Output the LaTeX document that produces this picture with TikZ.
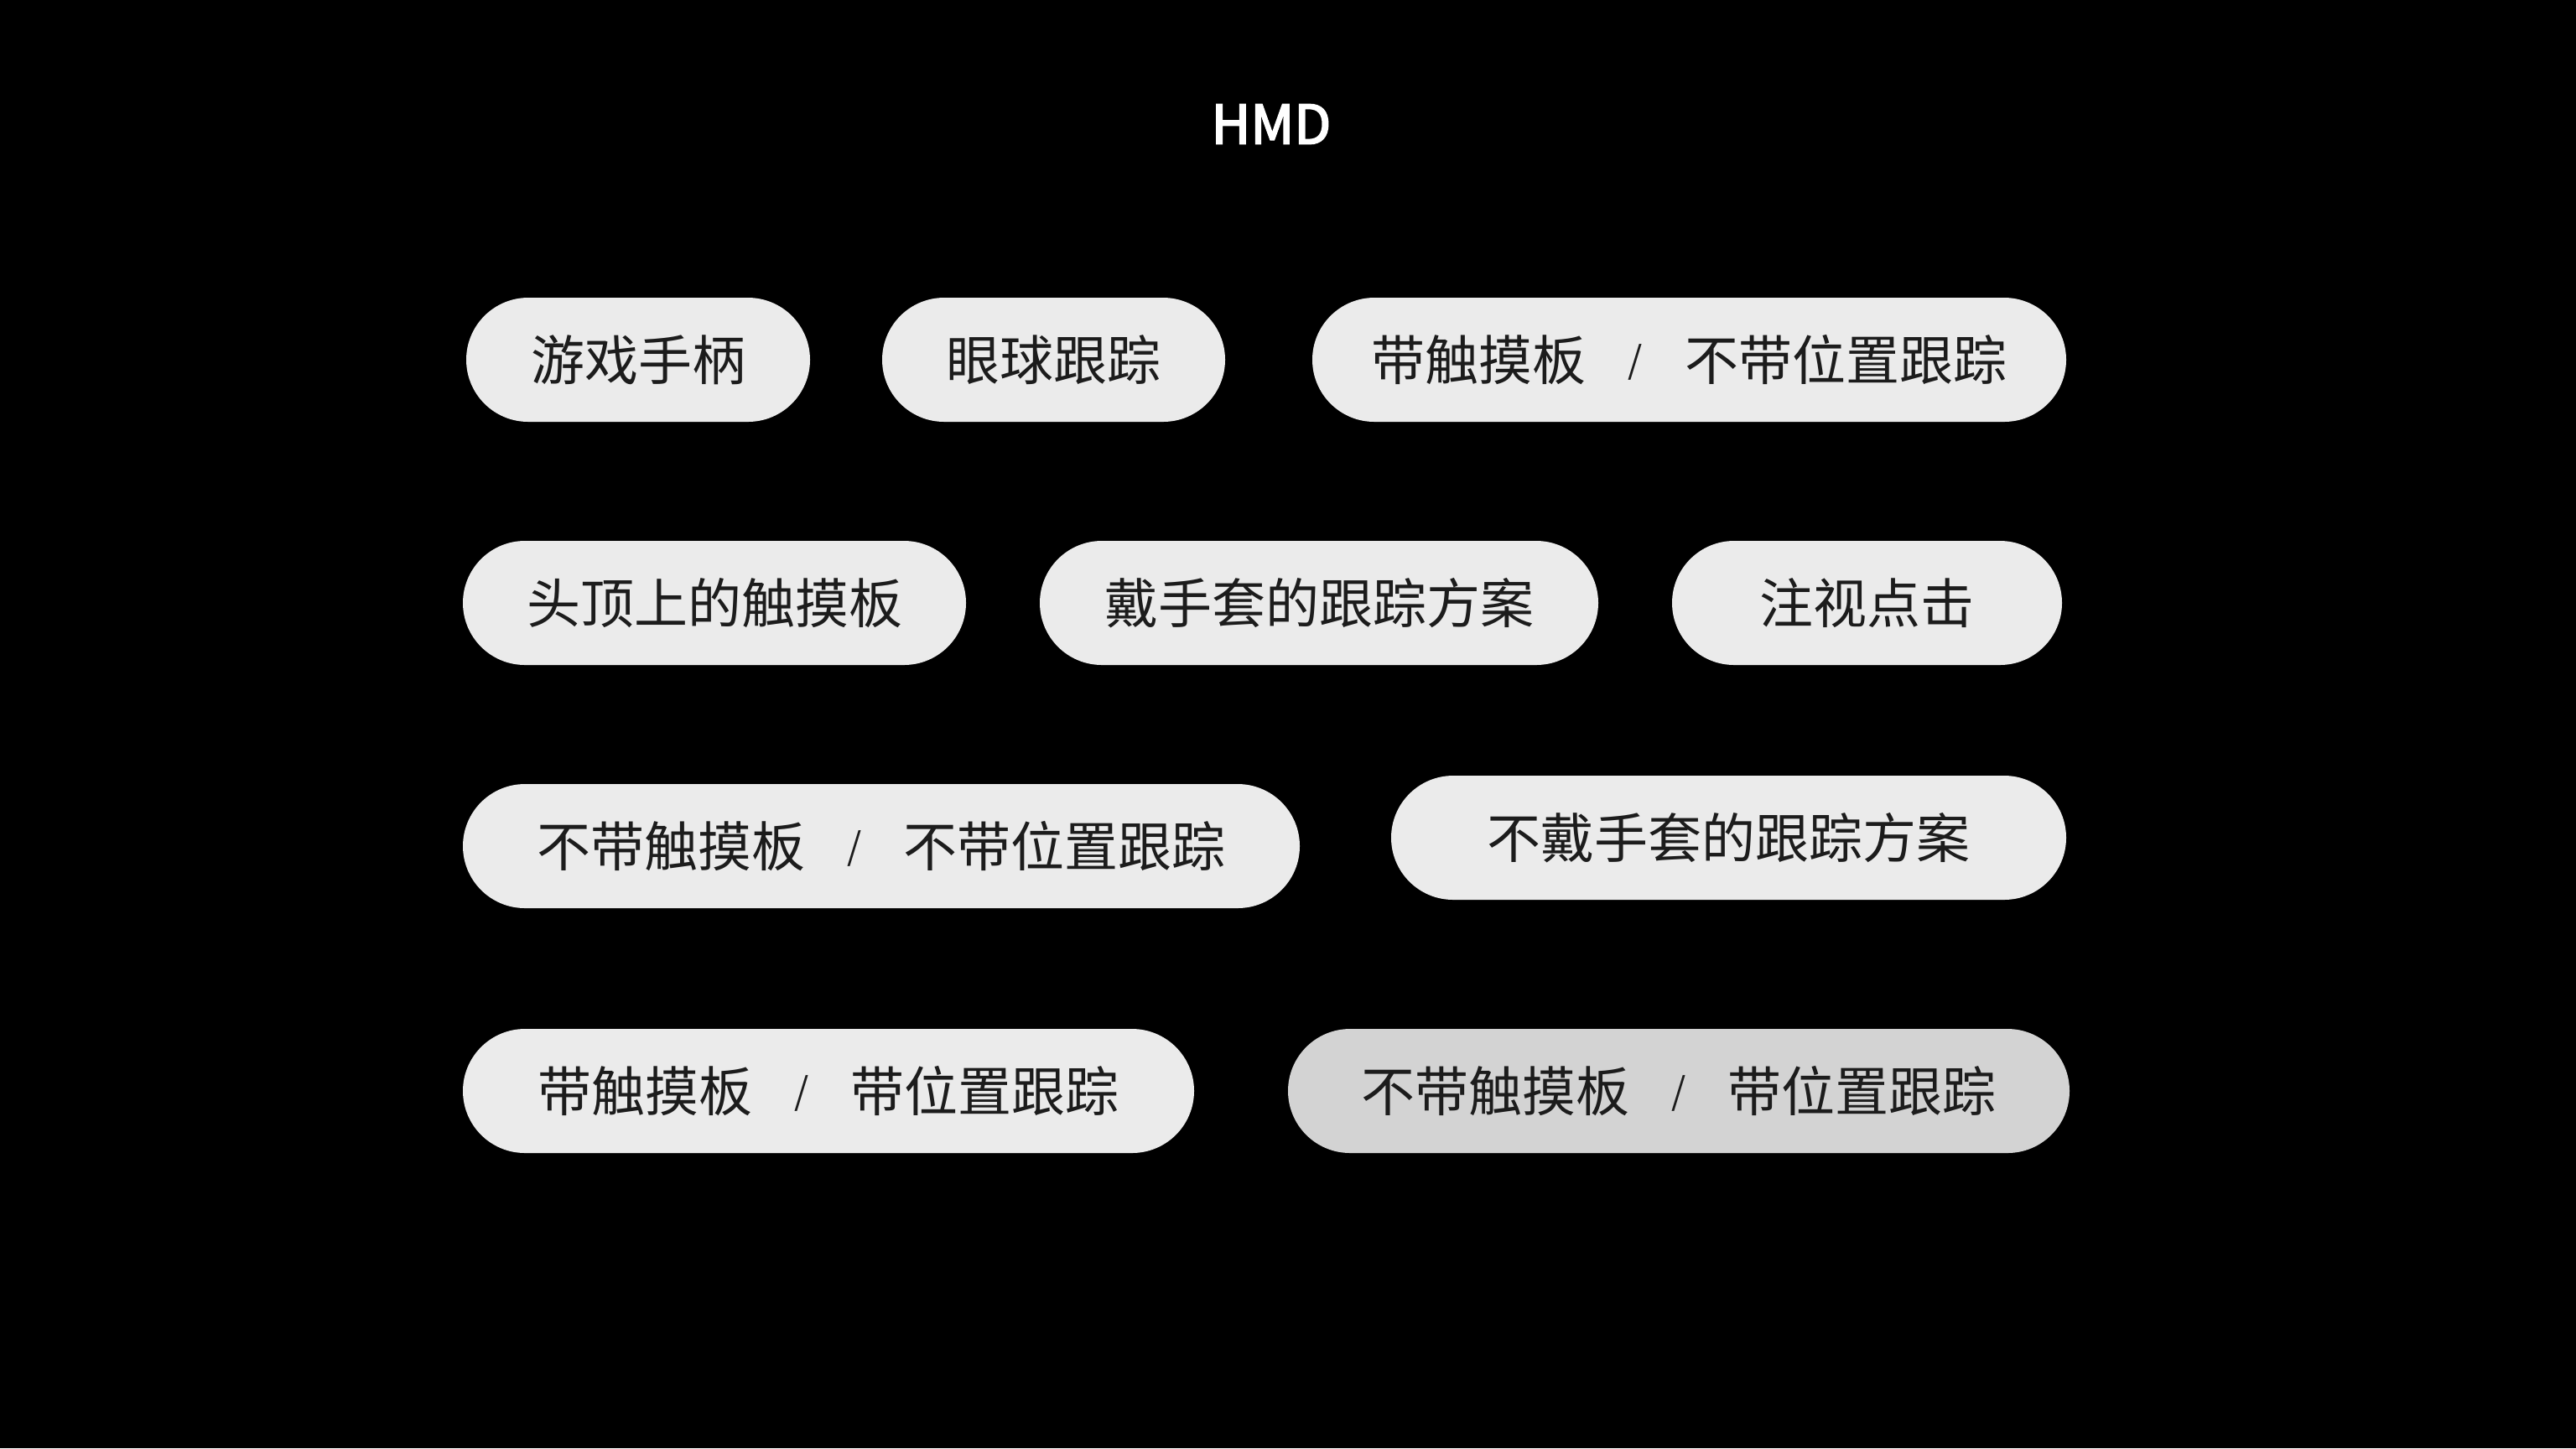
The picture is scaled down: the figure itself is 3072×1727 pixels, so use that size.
\documentclass[tikz,border=0pt]{standalone}
\usepackage{fontspec}
\setmainfont{Noto Sans CJK SC}
\newfontfamily\titlefont{Noto Sans CJK SC}[FakeBold=3]
\definecolor{pillfill}{HTML}{EBEBEB}
\definecolor{pilldark}{HTML}{D3D3D3}
\definecolor{pilltext}{HTML}{1C1C1C}
\tikzset{
  pill/.style={fill=pillfill, rounded corners=18.5pt, minimum height=37pt, inner sep=0pt,
    text=pilltext, font=\fontsize{16}{19}\selectfont, anchor=center},
  titletext/.style={text=white, font=\titlefont\fontsize{16}{19}\selectfont}
}
\newcommand{\pillsep}{\hspace{0.78em}\raisebox{0.12em}{\fontsize{11}{13}\selectfont /}\hspace{0.78em}}
\begin{document}
\begin{tikzpicture}[x=0.25pt,y=-0.25pt]
\fill[black] (0,0) rectangle (3072,1727);
\useasboundingbox (0,0) rectangle (3072,1727);
\node[titletext] (title) at (1516,148) {HMD};
% row 1
\node[pill, minimum width=102.5pt] (p1) at (761,429) {游戏手柄};
\node[pill, minimum width=102.25pt] (p2) at (1256.5,429) {眼球跟踪};
\node[pill, minimum width=224.75pt] (p3) at (2014.5,429) {带触摸板\pillsep 不带位置跟踪};
% row 2
\node[pill, minimum width=150pt] (p4) at (852,719) {头顶上的触摸板};
\node[pill, minimum width=166.5pt] (p5) at (1573,719) {戴手套的跟踪方案};
\node[pill, minimum width=116.25pt] (p6) at (2226.5,719) {注视点击};
% row 3
\node[pill, minimum width=249.5pt] (p7) at (1051,1009) {不带触摸板\pillsep 不带位置跟踪};
\node[pill, minimum width=201.25pt] (p8) at (2061.5,999) {不戴手套的跟踪方案};
% row 4
\node[pill, minimum width=218pt] (p9) at (988,1301) {带触摸板\pillsep 带位置跟踪};
\node[pill, fill=pilldark, minimum width=233pt] (p10) at (2002,1301) {不带触摸板\pillsep 带位置跟踪};
\end{tikzpicture}
\end{document}
